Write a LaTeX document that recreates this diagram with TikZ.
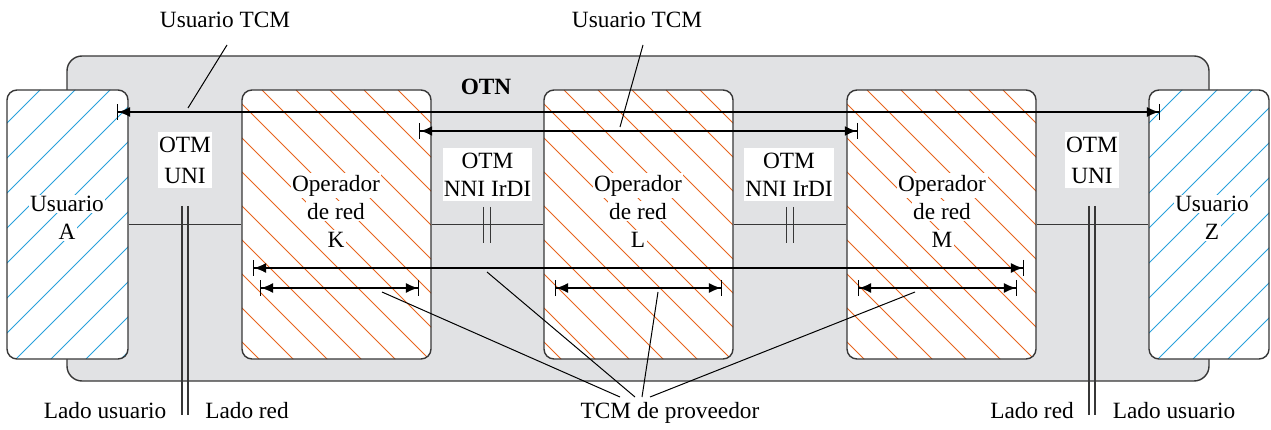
\documentclass[tikz,border=0pt]{standalone}
\usepackage{fontspec}
\setmainfont{Liberation Serif}
\usepackage{tikz}
\usetikzlibrary{arrows.meta}

\definecolor{otngray}{RGB}{225,226,228}
\definecolor{edgegray}{RGB}{55,55,55}
\definecolor{userblue}{RGB}{40,160,220}
\definecolor{oporange}{RGB}{232,100,30}
\setlength{\fboxsep}{1.5pt}
\newcommand{\wb}[1]{\colorbox{white}{#1}}

\begin{document}
\begin{tikzpicture}[x=1pt, y=-1pt, font=\fontsize{23.3}{28}\selectfont,
        otn/.style = {draw=edgegray, line width=1.4pt, fill=otngray, rounded corners=15pt,
            minimum width=1142pt, minimum height=325pt},
        user/.style = {draw=edgegray, line width=1.4pt, fill=white, rounded corners=10pt,
            minimum height=269pt, path picture={
                \foreach \k in {-8,...,4}
                    \draw[userblue, line width=0.9pt] ([xshift=\k*35pt+9pt]path picture bounding box.south west) -- ++(300,-300);}},
        oper/.style = {draw=edgegray, line width=1.4pt, fill=white, rounded corners=10pt,
            minimum width=189pt, minimum height=269pt, path picture={
                \foreach \k in {-8,...,6}
                    \draw[oporange, line width=0.9pt] ([xshift=\k*34pt-14pt]path picture bounding box.north west) -- ++(300,300);}},
        boxtext/.style = {align=center, inner sep=0pt},
        tag/.style = {fill=white, align=center, inner xsep=1pt, inner ysep=5pt},
        tcm/.style = {{Bar[width=16pt,line width=1.1pt]Latex[length=12pt,width=10pt]}-{Latex[length=12pt,width=10pt]Bar[width=16pt,line width=1.1pt]},
            draw=black, line width=1.3pt},
        link/.style = {draw=edgegray, line width=1.3pt},
        lead/.style = {draw=black, line width=1pt}]

            \useasboundingbox (0,0) rectangle (1271,430);

            \node[otn] (otn) at (638,218.5) {};
            \node (otnlbl) at (486,87) {\bfseries OTN};

            \node[user] (A) [minimum width=121pt] at (67.5,224.5) {};
            \node[oper] (K) at (336.5,224.5) {};
            \node[oper] (L) at (638.5,224.5) {};
            \node[oper] (M) at (941.5,224.5) {};
            \node[user] (Z) [minimum width=120pt] at (1209,224.5) {};

            \path[link] (A) edge (K) (K) edge (L) (L) edge (M) (M) edge (Z);

            \node[boxtext] (tA) at (67,218) {\wb{Usuario}\\\wb{A}};
            \node[boxtext] (tK) at (336,211) {\wb{Operador}\\\wb{de red}\\\wb{K}};
            \node[boxtext] (tL) at (638,211) {\wb{Operador}\\\wb{de red}\\\wb{L}};
            \node[boxtext] (tM) at (942,211) {\wb{Operador}\\\wb{de red}\\\wb{M}};
            \node[boxtext] (tZ) at (1212,218) {\wb{Usuario}\\\wb{Z}};

            % interfaces
            \node[tag] (uni1) at (185,160) {OTM\\[3pt]UNI};
            \node[tag] (nni1) at (487.5,174.5) {OTM\\NNI IrDI};
            \node[tag] (nni2) at (789,174.5) {OTM\\NNI IrDI};
            \node[tag] (uni2) at (1092,160) {OTM\\[3pt]UNI};

            \draw[link, line width=1.2pt] (182,206) -- (182,415) (188,206) -- (188,415);
            \draw[link, line width=1.2pt] (1089,206) -- (1089,415) (1095,206) -- (1095,415);
            \draw[link, line width=1.2pt] (483.5,207) -- (483.5,243) (490.5,207) -- (490.5,243);
            \draw[link, line width=1.2pt] (786.5,207) -- (786.5,243) (793.5,207) -- (793.5,243);

            % tcm sections
            \coordinate (u1) at (117,112);  \coordinate (u2) at (1160,112);
            \coordinate (v1) at (419,131);  \coordinate (v2) at (858,131);
            \coordinate (p1) at (253,268);  \coordinate (p2) at (1024,268);
            \coordinate (k1) at (260,288);  \coordinate (k2) at (419,288);
            \coordinate (l1) at (555,288);  \coordinate (l2) at (722,288);
            \coordinate (m1) at (858,288);  \coordinate (m2) at (1017,288);

            \draw[tcm] (u1) -- (u2);
            \draw[tcm, line width=2.6pt] (v1) -- (v2);
            \draw[tcm] (p1) -- (p2);
            \draw[tcm] (k1) -- (k2);
            \draw[tcm] (l1) -- (l2);
            \draw[tcm] (m1) -- (m2);

            \node (lu) at (225,20) {Usuario TCM};
            \node (lm) at (637,20) {Usuario TCM};
            \node (lp) at (670,413) {TCM de proveedor};
            \node (ls1) at (105,411) {Lado usuario};
            \node (lr1) at (247,411) {Lado red};
            \node (lr2) at (1032,411) {Lado red};
            \node (ls2) at (1174,411) {Lado usuario};

            % leader ends
            \coordinate (a1) at (227,45);  \coordinate (b1) at (188,108);
            \coordinate (a2) at (643,45);  \coordinate (b2) at (620,127);
            \coordinate (c1) at (620,397); \coordinate (d1) at (382,292);
            \coordinate (c2) at (635,397); \coordinate (d2) at (487,272);
            \coordinate (c3) at (642,397); \coordinate (d3) at (658,292);
            \coordinate (c4) at (650,397); \coordinate (d4) at (915,292);

            \path[lead] (a1) edge (b1) (a2) edge (b2);
            \path[lead] (c1) edge (d1) (c2) edge (d2) (c3) edge (d3) (c4) edge (d4);
        \end{tikzpicture}
\end{document}
